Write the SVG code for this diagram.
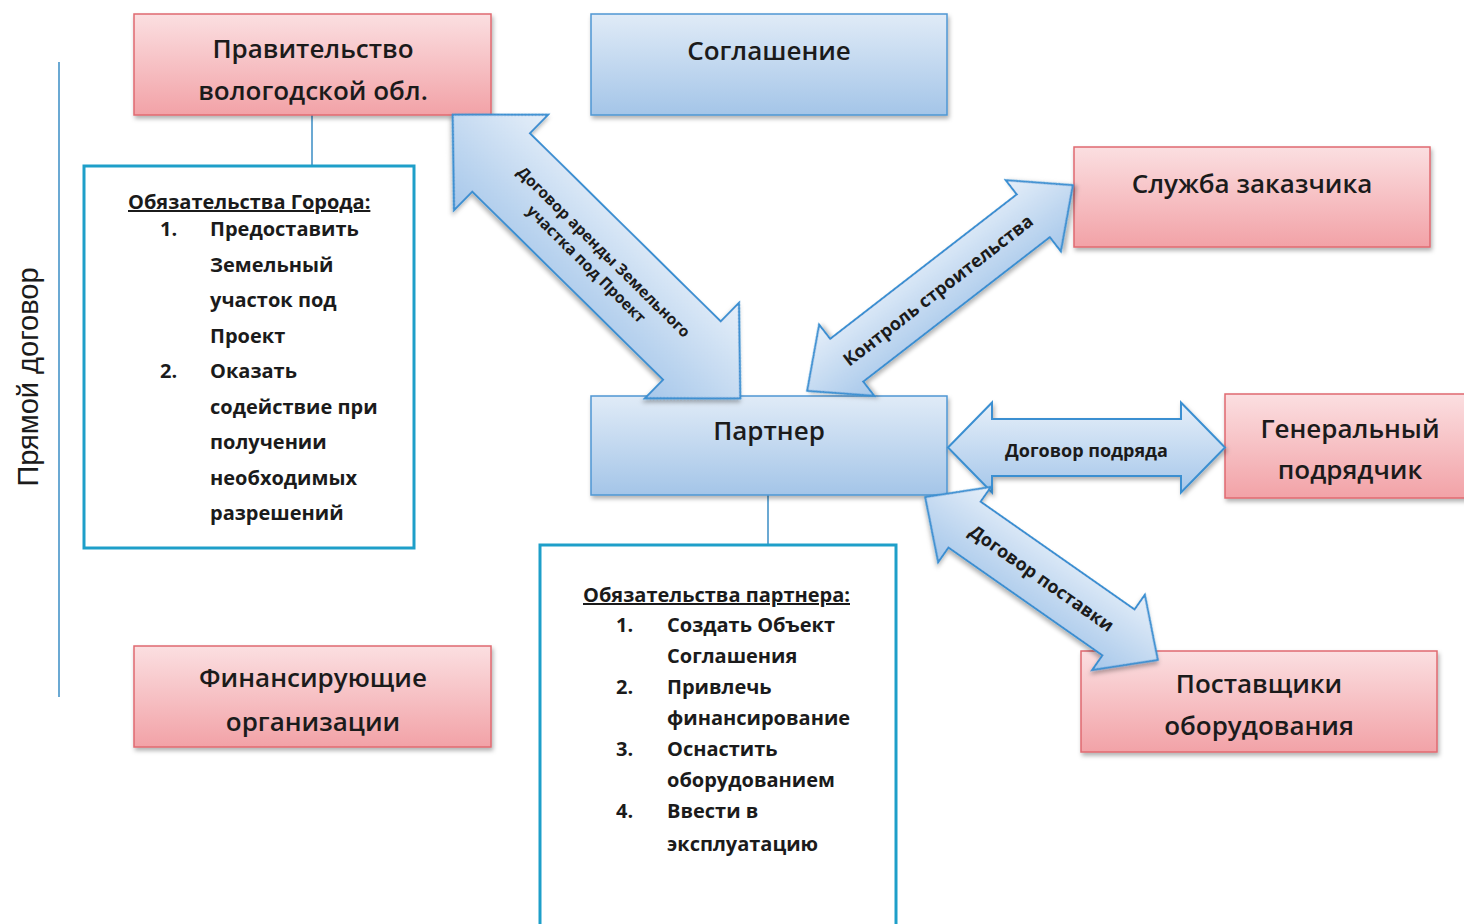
<svg xmlns="http://www.w3.org/2000/svg" width="1464" height="924" viewBox="0 0 1464 924">
<defs>
<linearGradient id="pink" x1="0" y1="0" x2="0" y2="1"><stop offset="0" stop-color="#fbdfe1"/><stop offset="1" stop-color="#f2a2a7"/></linearGradient>
<linearGradient id="blue" x1="0" y1="0" x2="0" y2="1"><stop offset="0" stop-color="#e0ebf7"/><stop offset="1" stop-color="#a4c5e8"/></linearGradient>
<linearGradient id="arr" x1="0" y1="0" x2="0" y2="1"><stop offset="0" stop-color="#e6eff9"/><stop offset="1" stop-color="#a6c7ea"/></linearGradient>
<filter id="sh" x="-10%" y="-10%" width="125%" height="130%"><feDropShadow dx="1.5" dy="3" stdDeviation="2" flood-color="#000" flood-opacity="0.3"/></filter>
</defs>
<style>
.pink{fill:url(#pink);stroke:#e06a70;stroke-width:1.5;filter:url(#sh)}
.blue{fill:url(#blue);stroke:#4f97d3;stroke-width:1.5;filter:url(#sh)}
.arrow{fill:url(#arr);stroke:#3b8fd1;stroke-width:2;filter:url(#sh)}
.obl{fill:#fff;stroke:#1e9fc9;stroke-width:3}
.ln{stroke:#3a8cc4;stroke-width:1.5;fill:none}
.bt{font-family:"Open Sans","Noto Sans",sans-serif;font-weight:600;font-size:26px;fill:#1b1b1b;text-anchor:middle}
.lt{font-family:"Open Sans","Noto Sans",sans-serif;font-weight:700;font-size:20px;fill:#1b1b1b}
.at{font-family:"Open Sans","Noto Sans",sans-serif;font-weight:700;font-size:18px;fill:#1b1b1b;text-anchor:middle}
.at.sm{font-size:15.5px}
.ul{text-decoration:underline}
.side{font-family:"Liberation Sans",Arial,sans-serif;font-size:29px;fill:#1b1b1b;text-anchor:middle}
</style>

<line id="side-line" class="ln" x1="59" y1="62" x2="59" y2="697" stroke-width="2"/>
<text class="side" transform="translate(38,377) rotate(-90)">Прямой договор</text>

<g id="connectors">
<line class="ln" x1="312" y1="115" x2="312" y2="166"/>
<line class="ln" x1="768" y1="495" x2="768" y2="545"/>
</g>

<g id="gov"><rect class="pink" x="134" y="14" width="357" height="101"/>
<text class="bt" x="313" y="58">Правительство</text><text class="bt" x="313" y="100">вологодской обл.</text></g>

<g id="agreement"><rect class="blue" x="591" y="14" width="356" height="101"/>
<text class="bt" x="769" y="60">Соглашение</text></g>

<g id="customer"><rect class="pink" x="1074" y="147" width="356" height="100"/>
<text class="bt" x="1252" y="193">Служба заказчика</text></g>

<g id="partner"><rect class="blue" x="591" y="396" width="356" height="99"/>
<text class="bt" x="769" y="440">Партнер</text></g>

<g id="contractor"><rect class="pink" x="1225" y="394" width="250" height="104"/>
<text class="bt" x="1350" y="438">Генеральный</text><text class="bt" x="1350" y="479">подрядчик</text></g>

<g id="suppliers"><rect class="pink" x="1081" y="651" width="356" height="101"/>
<text class="bt" x="1259" y="693">Поставщики</text><text class="bt" x="1259" y="735">оборудования</text></g>

<g id="finance"><rect class="pink" x="134" y="646" width="357" height="101"/>
<text class="bt" x="313" y="687">Финансирующие</text><text class="bt" x="313" y="731">организации</text></g>

<g id="city-obligations"><rect class="obl" x="84" y="166" width="330" height="382"/>
<text class="lt ul" x="128" y="209">Обязательства Города:</text>
<text class="lt" x="160" y="236">1.</text><text class="lt" x="210" y="236">Предоставить</text>
<text class="lt" x="210" y="272">Земельный</text>
<text class="lt" x="210" y="307">участок под</text>
<text class="lt" x="210" y="343">Проект</text>
<text class="lt" x="160" y="378">2.</text><text class="lt" x="210" y="378">Оказать</text>
<text class="lt" x="210" y="414">содействие при</text>
<text class="lt" x="210" y="449">получении</text>
<text class="lt" x="210" y="485">необходимых</text>
<text class="lt" x="210" y="520">разрешений</text>
</g>

<g id="partner-obligations"><rect class="obl" x="540" y="545" width="356" height="390"/>
<text class="lt ul" x="583" y="602">Обязательства партнера:</text>
<text class="lt" x="616" y="632">1.</text><text class="lt" x="667" y="632">Создать Объект</text>
<text class="lt" x="667" y="663">Соглашения</text>
<text class="lt" x="616" y="694">2.</text><text class="lt" x="667" y="694">Привлечь</text>
<text class="lt" x="667" y="725">финансирование</text>
<text class="lt" x="616" y="756">3.</text><text class="lt" x="667" y="756">Оснастить</text>
<text class="lt" x="667" y="787">оборудованием</text>
<text class="lt" x="616" y="818">4.</text><text class="lt" x="667" y="818">Ввести в</text>
<text class="lt" x="667" y="851">эксплуатацию</text>
</g>

<g id="arrows">
<g transform="translate(596.5,256.5) rotate(44.6)">
<polygon class="arrow" points="-202,0 -134,-67 -134,-41 134,-41 134,-67 202,0 134,67 134,41 -134,41 -134,67"/>
<text class="at sm" x="2" y="-3">Договор аренды Земельного</text>
<text class="at sm" x="-2" y="18">участка под Проект</text>
</g>
<g transform="translate(940,288) rotate(-37.75)">
<polygon class="arrow" points="-168,0 -118,-45 -118,-27 118,-27 118,-45 168,0 118,45 118,27 -118,27 -118,45"/>
<text class="at" x="-3" y="7">Контроль строительства</text>
</g>
<g transform="translate(1086.5,447.5)">
<polygon class="arrow" points="-138.5,0 -94.5,-45 -94.5,-28.5 94.5,-28.5 94.5,-45 138.5,0 94.5,45 94.5,28.5 -94.5,28.5 -94.5,45"/>
<text class="at" x="0" y="9">Договор подряда</text>
</g>
<g transform="translate(1041.5,578.5) rotate(35)">
<polygon class="arrow" points="-142,0 -94,-46 -94,-28 94,-28 94,-46 142,0 94,46 94,28 -94,28 -94,46"/>
<text class="at" x="0" y="6">Договор поставки</text>
</g>
</g>
</svg>
